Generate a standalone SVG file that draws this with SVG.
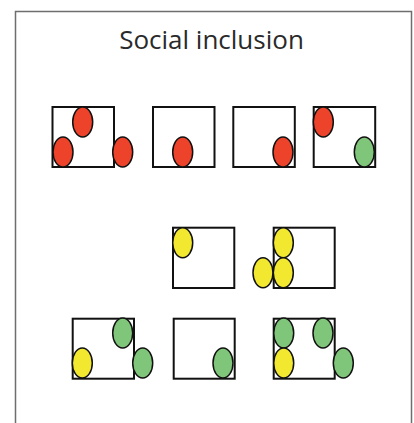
<svg xmlns="http://www.w3.org/2000/svg" width="414" height="423" viewBox="0 0 414 423">
<style>
.frame{fill:#fff;stroke:#6e6e6e;stroke-width:1.5}
.box{fill:#fff;stroke:#111;stroke-width:2}
.r{fill:#ee432b;stroke:#111;stroke-width:1.5}
.g{fill:#80c67a;stroke:#111;stroke-width:1.5}
.y{fill:#f1e82f;stroke:#111;stroke-width:1.5}
.title{font-family:"Open Sans","DejaVu Sans",sans-serif;font-size:26px;fill:#2a2a2a}
</style>
<rect x="0" y="0" width="414" height="423" fill="#fff"/>
<rect class="frame" x="15.5" y="11.5" width="396" height="420"/>
<text class="title" x="211.5" y="48.5" text-anchor="middle">Social inclusion</text>
<g id="row1-box1">
<rect class="box" x="52.5" y="107" width="61.5" height="60"/>
<ellipse class="r" cx="82.7" cy="122" rx="10" ry="15"/>
<ellipse class="r" cx="63" cy="152" rx="10" ry="15"/>
<ellipse class="r" cx="122.7" cy="152" rx="10" ry="15"/>
</g>
<g id="row1-box2">
<rect class="box" x="153" y="107" width="61.5" height="60"/>
<ellipse class="r" cx="182.7" cy="152" rx="10" ry="15"/>
</g>
<g id="row1-box3">
<rect class="box" x="233.3" y="107" width="61.5" height="60"/>
<ellipse class="r" cx="283" cy="152" rx="10" ry="15"/>
</g>
<g id="row1-box4">
<rect class="box" x="313.7" y="107" width="61.5" height="60"/>
<ellipse class="r" cx="323.3" cy="122" rx="10" ry="15"/>
<ellipse class="g" cx="364.3" cy="152" rx="10" ry="15"/>
</g>
<g id="row2-box1">
<rect class="box" x="173" y="227.7" width="61.3" height="60.3"/>
<ellipse class="y" cx="182.7" cy="242.7" rx="10" ry="15"/>
</g>
<g id="row2-box2">
<rect class="box" x="273.7" y="227.7" width="61" height="60.3"/>
<ellipse class="y" cx="283.3" cy="242.7" rx="10" ry="15"/>
<ellipse class="y" cx="263" cy="272.7" rx="10" ry="15"/>
<ellipse class="y" cx="283.3" cy="272.7" rx="10" ry="15"/>
</g>
<g id="row3-box1">
<rect class="box" x="72.7" y="318.7" width="61.3" height="60"/>
<ellipse class="g" cx="122.7" cy="333" rx="10" ry="15"/>
<ellipse class="y" cx="82.3" cy="363" rx="10" ry="15"/>
<ellipse class="g" cx="142.7" cy="363" rx="10" ry="15"/>
</g>
<g id="row3-box2">
<rect class="box" x="173.7" y="318.7" width="61" height="60"/>
<ellipse class="g" cx="223" cy="363" rx="10" ry="15"/>
</g>
<g id="row3-box3">
<rect class="box" x="273.7" y="318.7" width="61" height="60"/>
<ellipse class="g" cx="283.7" cy="333" rx="10" ry="15"/>
<ellipse class="g" cx="323" cy="333" rx="10" ry="15"/>
<ellipse class="y" cx="283.7" cy="363" rx="10" ry="15"/>
<ellipse class="g" cx="343.3" cy="363" rx="10" ry="15"/>
</g>
<g id="connectors"></g>
</svg>
